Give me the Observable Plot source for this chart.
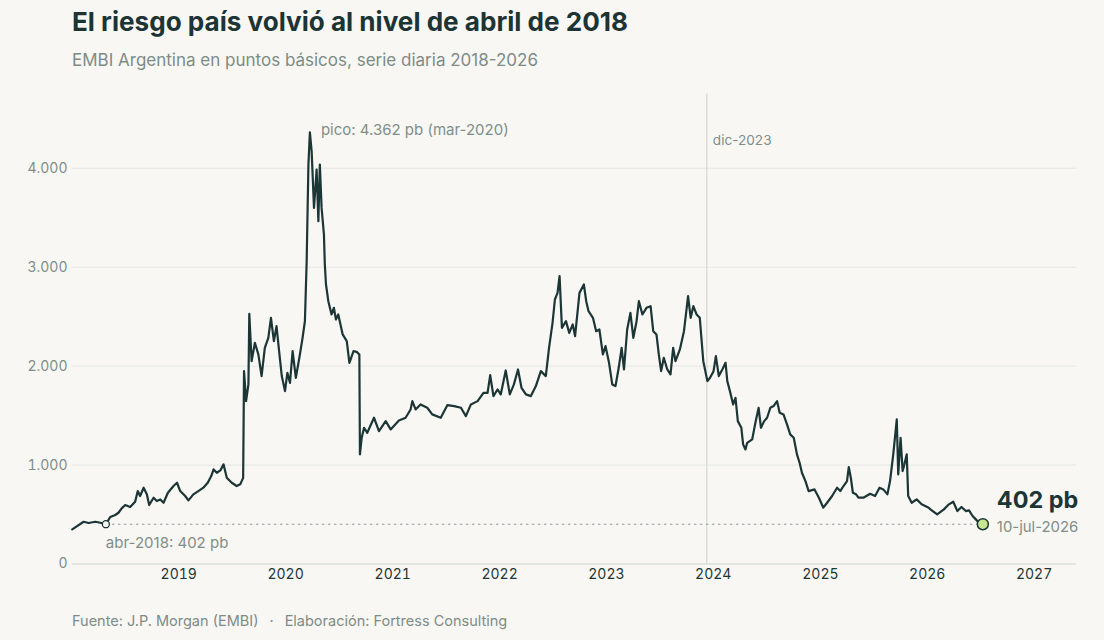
<!DOCTYPE html>
<html><head><meta charset="utf-8">
<script src="https://cdn.jsdelivr.net/npm/d3@7"></script>
<script src="https://cdn.jsdelivr.net/npm/@observablehq/plot@0.6"></script>
<style>
html,body{margin:0;padding:0;background:#f8f7f4;}
body{width:1104px;height:640px;position:relative;overflow:hidden;font-family:Inter,"Noto Sans",sans-serif;}
#title{position:absolute;left:72px;top:6px;font-size:26.1px;line-height:32px;font-weight:700;color:#1c3434;white-space:nowrap;}
#subtitle{position:absolute;left:72px;top:49px;font-size:17px;line-height:22px;color:#7d8c87;white-space:nowrap;}
#chart{position:absolute;left:0;top:80px;}
#caption{position:absolute;left:72px;top:611px;font-size:14.5px;line-height:20px;color:#7d8c87;white-space:nowrap;}
#caption .sep{margin:0 11px;}
</style></head><body>
<div id="title">El riesgo país volvió al nivel de abril de 2018</div>
<div id="subtitle">EMBI Argentina en puntos básicos, serie diaria 2018-2026</div>
<div id="chart"></div>
<div id="caption">Fuente: J.P. Morgan (EMBI)<span class="sep">·</span>Elaboración: Fortress Consulting</div>
<script>
const dates = [
"2018-01-02","2018-02-10","2018-02-27","2018-03-22","2018-04-08","2018-04-27","2018-05-12","2018-05-29","2018-06-09","2018-06-20",
"2018-07-02","2018-07-19","2018-08-05","2018-08-14","2018-08-22","2018-09-03","2018-09-14","2018-09-22","2018-10-07","2018-10-18",
"2018-10-30","2018-11-10","2018-11-25","2018-12-14","2018-12-26","2019-01-06","2019-01-23","2019-02-03","2019-02-20","2019-03-09",
"2019-03-26","2019-04-10","2019-04-22","2019-04-30","2019-05-11","2019-05-23","2019-06-03","2019-06-14","2019-07-01","2019-07-18",
"2019-07-30","2019-08-09","2019-08-12","2019-08-19","2019-08-27","2019-08-30","2019-09-07","2019-09-18","2019-09-30","2019-10-11",
"2019-10-22","2019-11-03","2019-11-12","2019-11-22","2019-12-01","2019-12-11","2019-12-19","2019-12-30","2020-01-07","2020-01-16",
"2020-01-25","2020-02-05","2020-02-17","2020-02-28","2020-03-07","2020-03-13","2020-03-19","2020-03-24","2020-03-30","2020-04-07",
"2020-04-16","2020-04-22","2020-04-27","2020-05-03","2020-05-11","2020-05-14","2020-05-18","2020-05-26","2020-06-06","2020-06-14",
"2020-06-21","2020-06-29","2020-07-14","2020-07-28","2020-08-06","2020-08-20","2020-08-31","2020-09-09","2020-09-11","2020-09-17",
"2020-09-25","2020-10-06","2020-10-29","2020-11-15","2020-12-08","2020-12-25","2021-01-22","2021-02-14","2021-03-03","2021-03-09",
"2021-03-20","2021-04-06","2021-04-29","2021-05-16","2021-06-14","2021-07-07","2021-07-30","2021-08-22","2021-09-08","2021-09-25",
"2021-10-18","2021-11-07","2021-11-21","2021-11-30","2021-12-11","2021-12-25","2022-01-05","2022-01-22","2022-02-05","2022-02-19",
"2022-03-05","2022-03-17","2022-04-01","2022-04-18","2022-05-05","2022-05-22","2022-06-08","2022-06-19","2022-07-01","2022-07-09",
"2022-07-18","2022-07-25","2022-08-02","2022-08-16","2022-08-27","2022-09-08","2022-09-16","2022-10-01","2022-10-16","2022-10-24",
"2022-11-01","2022-11-16","2022-11-27","2022-12-08","2022-12-20","2022-12-29","2023-01-10","2023-01-21","2023-02-01","2023-02-12",
"2023-02-22","2023-03-02","2023-03-13","2023-03-24","2023-04-03","2023-04-14","2023-04-22","2023-05-04","2023-05-18","2023-06-01",
"2023-06-10","2023-06-21","2023-06-29","2023-07-07","2023-07-16","2023-07-28","2023-08-08","2023-08-17","2023-08-25","2023-09-09",
"2023-09-23","2023-10-07","2023-10-16","2023-10-25","2023-11-05","2023-11-16","2023-11-28","2023-12-12","2023-12-21","2024-01-02",
"2024-01-10","2024-01-20","2024-02-01","2024-02-12","2024-02-18","2024-02-27","2024-03-09","2024-03-17","2024-03-25","2024-04-06",
"2024-04-12","2024-04-20","2024-04-26","2024-05-13","2024-05-24","2024-06-04","2024-06-12","2024-06-23","2024-07-03","2024-07-14",
"2024-07-25","2024-08-06","2024-08-15","2024-08-28","2024-09-09","2024-09-20","2024-10-02","2024-10-13","2024-10-22","2024-10-30",
"2024-11-11","2024-11-22","2024-12-12","2024-12-27","2025-01-11","2025-01-24","2025-02-10","2025-02-27","2025-03-10","2025-03-21",
"2025-04-02","2025-04-08","2025-04-15","2025-04-22","2025-05-03","2025-05-11","2025-05-28","2025-06-20","2025-07-07","2025-07-22",
"2025-08-04","2025-08-18","2025-08-27","2025-09-07","2025-09-19","2025-09-24","2025-10-02","2025-10-09","2025-10-15","2025-10-23",
"2025-10-28","2025-11-09","2025-11-26","2025-12-13","2026-01-06","2026-01-12","2026-02-04","2026-02-27","2026-03-16","2026-03-31",
"2026-04-14","2026-04-28","2026-05-13","2026-05-24","2026-06-05","2026-06-16","2026-06-27","2026-07-10"
];
const embi = [
350,427,414,427,417,402,475,495,518,562,
596,576,629,737,687,771,704,596,670,636,
653,619,720,788,821,737,687,643,704,737,
771,821,889,956,922,946,1007,872,821,788,
805,870,1949,1646,1815,2528,2050,2235,2118,1899,
2185,2286,2488,2252,2404,2118,1899,1747,1932,1831,
2151,1882,2084,2286,2454,3060,4037,4362,4171,3599,
3986,3464,4037,3599,3330,3027,2825,2656,2522,2589,
2471,2522,2320,2252,2033,2151,2144,2118,1108,1276,
1377,1326,1478,1343,1444,1360,1451,1478,1562,1646,
1562,1613,1579,1512,1478,1606,1596,1579,1495,1613,
1646,1730,1730,1909,1697,1764,1714,1956,1714,1815,
1966,1781,1714,1697,1798,1949,1899,2185,2437,2673,
2740,2909,2387,2454,2336,2421,2303,2740,2825,2656,
2555,2488,2353,2370,2118,2202,2033,1815,1798,1983,
2185,1966,2370,2538,2286,2454,2656,2522,2589,2606,
2353,2320,2118,1949,2084,1966,1916,2185,2050,2168,
2353,2707,2488,2606,2522,2488,2050,1848,1882,1949,
2101,1899,1966,2033,1848,1747,1613,1680,1444,1377,
1209,1158,1225,1259,1427,1579,1377,1444,1478,1579,
1596,1646,1528,1512,1411,1310,1276,1108,1023,922,
838,737,754,670,569,619,687,771,737,788,
838,980,872,720,704,670,670,710,687,771,
754,704,838,1108,1461,906,1276,939,1007,1108,
687,619,653,603,569,552,502,552,603,629,
535,576,535,542,485,451,417,402
];
const yTicks = [0, 1000, 2000, 3000, 4000];
const xTickYears = [2019, 2020, 2021, 2022, 2023, 2024, 2025, 2026, 2027];
const refDate = ["2018-04-27"], refValue = [402], refLabel = ["abr-2018: 402 pb"];
const peakDate = ["2020-03-24"], peakValue = [4362], peakLabel = ["pico: 4.362 pb (mar-2020)"];
const eventDate = ["2023-12-10"], eventLabel = ["dic-2023"];
const lastDate = ["2026-07-10"], lastValue = [402], lastLabel = ["402 pb"], lastDateLabel = ["10-jul-2026"];

const parse = d3.utcParse("%Y-%m-%d");
const series = dates.map((d, i) => ({date: parse(d), value: embi[i]}));
const fmt = d3.formatLocale({decimal: ",", thousands: ".", grouping: [3], currency: ["$", ""]}).format(",");
const dark = "#1c3535", grey = "#7f8e89";
const ref = [{date: parse(refDate[0]), value: refValue[0], end: parse(lastDate[0])}];
const peak = [{date: parse(peakDate[0]), value: peakValue[0]}];
const ev = [{date: parse(eventDate[0])}];
const last = [{date: parse(lastDate[0]), value: lastValue[0]}];

const chart = Plot.plot({
  width: 1104,
  height: 514,
  marginTop: 13.5,
  marginBottom: 30.5,
  marginLeft: 72,
  marginRight: 28,
  style: {background: "transparent", fontFamily: "Inter, 'Noto Sans', sans-serif", fontSize: "14px", overflow: "visible"},
  x: {type: "utc", domain: [parse("2018-01-03"), parse("2027-05-26")]},
  y: {domain: [0, 4750]},
  marks: [
    Plot.ruleY(yTicks.filter(d => d > 0), {stroke: "#e3e7e0", strokeWidth: 1}),
    Plot.ruleY([0], {stroke: "#cdd5ca", strokeWidth: 1}),
    Plot.ruleX(ev, {x: "date", stroke: "#d2dace", strokeWidth: 1.2}),
    Plot.axisY({ticks: yTicks, tickSize: 0, tickPadding: 5, tickFormat: fmt, label: null, fill: grey, fontSize: 14}),
    Plot.axisX({ticks: xTickYears.map(y => new Date(Date.UTC(y, 0, 1))), tickSize: 0, tickPadding: 5, tickFormat: d3.utcFormat("%Y"), label: null, fill: dark, fontSize: 14}),
    Plot.link(ref, {x1: "date", x2: "end", y1: "value", y2: "value", stroke: "#8f9a96", strokeWidth: 1, strokeDasharray: "2.5,3.5"}),
    Plot.line(series, {x: "date", y: "value", stroke: dark, strokeWidth: 2.2, strokeLinejoin: "round"}),
    Plot.dot(ref, {x: "date", y: "value", r: 3.5, fill: "#f8f7f4", stroke: dark, strokeWidth: 1.3}),
    Plot.dot(last, {x: "date", y: "value", r: 5.5, fill: "#c8e690", stroke: dark, strokeWidth: 1.5}),
    Plot.text(ref, {x: "date", y: "value", text: () => refLabel[0], dy: 19, textAnchor: "start", fill: grey, fontSize: 15}),
    Plot.text(peak, {x: "date", y: "value", text: () => peakLabel[0], dx: 11, dy: -2, textAnchor: "start", fill: grey, fontSize: 15}),
    Plot.text(ev, {x: "date", y: () => 4280, text: () => eventLabel[0], dx: 6, textAnchor: "start", fill: grey, fontSize: 13.6}),
    Plot.text(last, {x: "date", y: "value", text: () => lastLabel[0], dx: 14, dy: -24, textAnchor: "start", fill: dark, fontSize: 23.4, fontWeight: 700}),
    Plot.text(last, {x: "date", y: "value", text: () => lastDateLabel[0], dx: 14, dy: 3, textAnchor: "start", fill: grey, fontSize: 14.9})
  ]
});
document.getElementById("chart").appendChild(chart);
</script>
</body></html>
